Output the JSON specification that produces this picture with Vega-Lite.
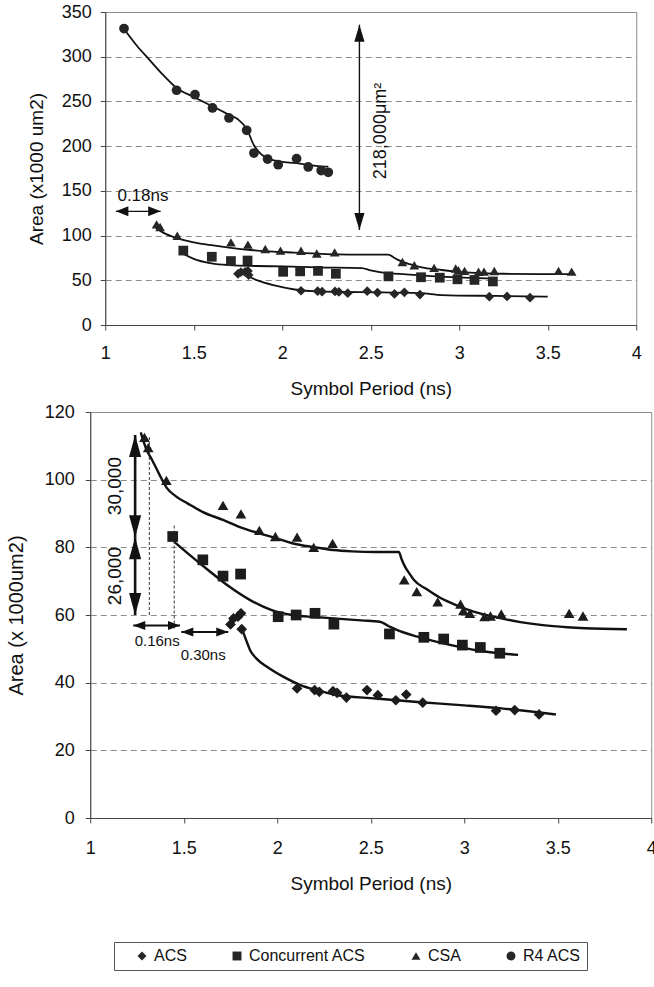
{
  "$schema": "https://vega.github.io/schema/vega-lite/v6.json",
  "background": "white",
  "padding": {"left": 5, "top": 2, "right": 0, "bottom": 0},
  "config": {
    "font": "Liberation Sans",
    "view": {"stroke": "#8c8c8c", "strokeWidth": 1},
    "axis": {
      "labelFont": "Liberation Sans", "titleFont": "Liberation Sans",
      "labelColor": "#111", "titleColor": "#111", "titleFontWeight": "normal",
      "domainColor": "#444", "tickColor": "#444", "tickSize": 5,
      "gridColor": "#8c8c8c", "gridDash": [6, 4], "labelFontSize": 18
    },
    "legend": {
      "orient": "none", "legendX": 24, "legendY": 930, "direction": "horizontal", "columns": 4,
      "strokeColor": "#555", "padding": 6, "labelFontSize": 16, "labelFont": "Liberation Sans",
      "labelColor": "#111", "symbolSize": 80, "symbolOffset": 14, "columnPadding": 28,
      "symbolFillColor": "#111", "symbolStrokeColor": "#111"
    }
  },
  "datasets": {
    "pts": [
      {"series": "ACS", "x": 1.75, "y": 57.2}, {"series": "ACS", "x": 1.766, "y": 59}, {"series": "ACS", "x": 1.79, "y": 59.5},
      {"series": "ACS", "x": 1.806, "y": 60.5}, {"series": "ACS", "x": 1.81, "y": 55.8}, {"series": "ACS", "x": 2.106, "y": 38.3},
      {"series": "ACS", "x": 2.2, "y": 37.8}, {"series": "ACS", "x": 2.225, "y": 37.3}, {"series": "ACS", "x": 2.298, "y": 37.5},
      {"series": "ACS", "x": 2.32, "y": 37}, {"series": "ACS", "x": 2.37, "y": 35.6}, {"series": "ACS", "x": 2.48, "y": 37.8},
      {"series": "ACS", "x": 2.538, "y": 36.3}, {"series": "ACS", "x": 2.634, "y": 34.8}, {"series": "ACS", "x": 2.69, "y": 36.5},
      {"series": "ACS", "x": 2.778, "y": 34.1}, {"series": "ACS", "x": 3.17, "y": 31.7}, {"series": "ACS", "x": 3.27, "y": 31.9},
      {"series": "ACS", "x": 3.4, "y": 30.6},
      {"series": "Concurrent ACS", "x": 1.441, "y": 83.2}, {"series": "Concurrent ACS", "x": 1.602, "y": 76.3},
      {"series": "Concurrent ACS", "x": 1.71, "y": 71.5}, {"series": "Concurrent ACS", "x": 1.804, "y": 72.1},
      {"series": "Concurrent ACS", "x": 2.005, "y": 59.5}, {"series": "Concurrent ACS", "x": 2.101, "y": 60},
      {"series": "Concurrent ACS", "x": 2.202, "y": 60.5}, {"series": "Concurrent ACS", "x": 2.303, "y": 57.3},
      {"series": "Concurrent ACS", "x": 2.6, "y": 54.4}, {"series": "Concurrent ACS", "x": 2.784, "y": 53.4},
      {"series": "Concurrent ACS", "x": 2.89, "y": 52.9}, {"series": "Concurrent ACS", "x": 2.99, "y": 51.1},
      {"series": "Concurrent ACS", "x": 3.086, "y": 50.4}, {"series": "Concurrent ACS", "x": 3.19, "y": 48.7},
      {"series": "CSA", "x": 1.29, "y": 112.5}, {"series": "CSA", "x": 1.31, "y": 109.5}, {"series": "CSA", "x": 1.407, "y": 99.8},
      {"series": "CSA", "x": 1.71, "y": 92.4}, {"series": "CSA", "x": 1.806, "y": 89.9}, {"series": "CSA", "x": 1.904, "y": 85},
      {"series": "CSA", "x": 1.99, "y": 83.2}, {"series": "CSA", "x": 2.106, "y": 83}, {"series": "CSA", "x": 2.195, "y": 80},
      {"series": "CSA", "x": 2.296, "y": 81.2}, {"series": "CSA", "x": 2.679, "y": 70.4}, {"series": "CSA", "x": 2.746, "y": 66.9},
      {"series": "CSA", "x": 2.858, "y": 63.9}, {"series": "CSA", "x": 2.98, "y": 63.2}, {"series": "CSA", "x": 2.995, "y": 61.3},
      {"series": "CSA", "x": 3.03, "y": 60.5}, {"series": "CSA", "x": 3.109, "y": 59.5}, {"series": "CSA", "x": 3.14, "y": 59.7},
      {"series": "CSA", "x": 3.198, "y": 60.3}, {"series": "CSA", "x": 3.561, "y": 60.5}, {"series": "CSA", "x": 3.635, "y": 59.7},
      {"series": "R4 ACS", "x": 1.106, "y": 331.5}, {"series": "R4 ACS", "x": 1.403, "y": 262.5}, {"series": "R4 ACS", "x": 1.507, "y": 257.5},
      {"series": "R4 ACS", "x": 1.606, "y": 242.7}, {"series": "R4 ACS", "x": 1.699, "y": 231.5}, {"series": "R4 ACS", "x": 1.799, "y": 217.7},
      {"series": "R4 ACS", "x": 1.84, "y": 192.3}, {"series": "R4 ACS", "x": 1.917, "y": 185.6}, {"series": "R4 ACS", "x": 1.977, "y": 179.2},
      {"series": "R4 ACS", "x": 2.081, "y": 186}, {"series": "R4 ACS", "x": 2.147, "y": 176.7}, {"series": "R4 ACS", "x": 2.22, "y": 172.7},
      {"series": "R4 ACS", "x": 2.26, "y": 170.8}
    ],
    "curves": [
      {"panel": "top", "series": "R4 ACS", "x": 1.106, "y": 331}, {"panel": "top", "series": "R4 ACS", "x": 1.18, "y": 312},
      {"panel": "top", "series": "R4 ACS", "x": 1.25, "y": 296.5}, {"panel": "top", "series": "R4 ACS", "x": 1.33, "y": 279},
      {"panel": "top", "series": "R4 ACS", "x": 1.403, "y": 265}, {"panel": "top", "series": "R4 ACS", "x": 1.5, "y": 255},
      {"panel": "top", "series": "R4 ACS", "x": 1.606, "y": 244.5}, {"panel": "top", "series": "R4 ACS", "x": 1.7, "y": 235},
      {"panel": "top", "series": "R4 ACS", "x": 1.75, "y": 230}, {"panel": "top", "series": "R4 ACS", "x": 1.8, "y": 219},
      {"panel": "top", "series": "R4 ACS", "x": 1.84, "y": 201}, {"panel": "top", "series": "R4 ACS", "x": 1.88, "y": 191},
      {"panel": "top", "series": "R4 ACS", "x": 1.93, "y": 185.5}, {"panel": "top", "series": "R4 ACS", "x": 2.0, "y": 182.5},
      {"panel": "top", "series": "R4 ACS", "x": 2.1, "y": 180.5}, {"panel": "top", "series": "R4 ACS", "x": 2.19, "y": 178},
      {"panel": "top", "series": "R4 ACS", "x": 2.26, "y": 177},
      {"panel": "top", "series": "CSA", "x": 1.276, "y": 110.5}, {"panel": "top", "series": "CSA", "x": 1.33, "y": 103},
      {"panel": "top", "series": "CSA", "x": 1.4, "y": 97.4}, {"panel": "top", "series": "CSA", "x": 1.5, "y": 92.5},
      {"panel": "top", "series": "CSA", "x": 1.6, "y": 89.2}, {"panel": "top", "series": "CSA", "x": 1.72, "y": 86},
      {"panel": "top", "series": "CSA", "x": 1.837, "y": 83.6}, {"panel": "top", "series": "CSA", "x": 1.95, "y": 82},
      {"panel": "top", "series": "CSA", "x": 2.07, "y": 81}, {"panel": "top", "series": "CSA", "x": 2.2, "y": 79.8},
      {"panel": "top", "series": "CSA", "x": 2.31, "y": 79}, {"panel": "top", "series": "CSA", "x": 2.45, "y": 78.7},
      {"panel": "top", "series": "CSA", "x": 2.6, "y": 78.7}, {"panel": "top", "series": "CSA", "x": 2.63, "y": 75.5},
      {"panel": "top", "series": "CSA", "x": 2.66, "y": 72.3}, {"panel": "top", "series": "CSA", "x": 2.72, "y": 68},
      {"panel": "top", "series": "CSA", "x": 2.78, "y": 64.8}, {"panel": "top", "series": "CSA", "x": 2.9, "y": 61.5},
      {"panel": "top", "series": "CSA", "x": 3.015, "y": 59.2}, {"panel": "top", "series": "CSA", "x": 3.13, "y": 58},
      {"panel": "top", "series": "CSA", "x": 3.25, "y": 57.3}, {"panel": "top", "series": "CSA", "x": 3.45, "y": 57},
      {"panel": "top", "series": "CSA", "x": 3.645, "y": 57},
      {"panel": "top", "series": "Concurrent ACS", "x": 1.436, "y": 80}, {"panel": "top", "series": "Concurrent ACS", "x": 1.5, "y": 74},
      {"panel": "top", "series": "Concurrent ACS", "x": 1.6, "y": 69}, {"panel": "top", "series": "Concurrent ACS", "x": 1.7, "y": 67},
      {"panel": "top", "series": "Concurrent ACS", "x": 1.85, "y": 66}, {"panel": "top", "series": "Concurrent ACS", "x": 2.0, "y": 65.5},
      {"panel": "top", "series": "Concurrent ACS", "x": 2.2, "y": 64.5}, {"panel": "top", "series": "Concurrent ACS", "x": 2.45, "y": 63.7},
      {"panel": "top", "series": "Concurrent ACS", "x": 2.5, "y": 61}, {"panel": "top", "series": "Concurrent ACS", "x": 2.55, "y": 59.2},
      {"panel": "top", "series": "Concurrent ACS", "x": 2.7, "y": 56.5}, {"panel": "top", "series": "Concurrent ACS", "x": 2.9, "y": 54},
      {"panel": "top", "series": "Concurrent ACS", "x": 3.2, "y": 51.7},
      {"panel": "top", "series": "ACS", "x": 1.75, "y": 59}, {"panel": "top", "series": "ACS", "x": 1.8, "y": 55},
      {"panel": "top", "series": "ACS", "x": 1.86, "y": 49.8}, {"panel": "top", "series": "ACS", "x": 1.95, "y": 44.5},
      {"panel": "top", "series": "ACS", "x": 2.07, "y": 39.7}, {"panel": "top", "series": "ACS", "x": 2.2, "y": 37.5},
      {"panel": "top", "series": "ACS", "x": 2.45, "y": 36.7}, {"panel": "top", "series": "ACS", "x": 2.78, "y": 35.6},
      {"panel": "top", "series": "ACS", "x": 2.9, "y": 33.5}, {"panel": "top", "series": "ACS", "x": 3.2, "y": 32.5},
      {"panel": "top", "series": "ACS", "x": 3.5, "y": 31.8},
      {"panel": "bottom", "series": "CSA", "x": 1.27, "y": 114}, {"panel": "bottom", "series": "CSA", "x": 1.3, "y": 109},
      {"panel": "bottom", "series": "CSA", "x": 1.33, "y": 105.9}, {"panel": "bottom", "series": "CSA", "x": 1.37, "y": 101.5},
      {"panel": "bottom", "series": "CSA", "x": 1.41, "y": 97.5}, {"panel": "bottom", "series": "CSA", "x": 1.46, "y": 95},
      {"panel": "bottom", "series": "CSA", "x": 1.52, "y": 93}, {"panel": "bottom", "series": "CSA", "x": 1.6, "y": 90.5},
      {"panel": "bottom", "series": "CSA", "x": 1.71, "y": 88.1}, {"panel": "bottom", "series": "CSA", "x": 1.8, "y": 86},
      {"panel": "bottom", "series": "CSA", "x": 1.9, "y": 84.2}, {"panel": "bottom", "series": "CSA", "x": 2.0, "y": 82.6},
      {"panel": "bottom", "series": "CSA", "x": 2.08, "y": 81.2}, {"panel": "bottom", "series": "CSA", "x": 2.2, "y": 80},
      {"panel": "bottom", "series": "CSA", "x": 2.3, "y": 79.2}, {"panel": "bottom", "series": "CSA", "x": 2.4, "y": 78.8},
      {"panel": "bottom", "series": "CSA", "x": 2.53, "y": 78.6}, {"panel": "bottom", "series": "CSA", "x": 2.65, "y": 78.6},
      {"panel": "bottom", "series": "CSA", "x": 2.665, "y": 76.5}, {"panel": "bottom", "series": "CSA", "x": 2.683, "y": 74.3},
      {"panel": "bottom", "series": "CSA", "x": 2.71, "y": 72}, {"panel": "bottom", "series": "CSA", "x": 2.73, "y": 70.4},
      {"panel": "bottom", "series": "CSA", "x": 2.8, "y": 67.6}, {"panel": "bottom", "series": "CSA", "x": 2.862, "y": 65.4},
      {"panel": "bottom", "series": "CSA", "x": 2.92, "y": 63.8}, {"panel": "bottom", "series": "CSA", "x": 2.975, "y": 62.5},
      {"panel": "bottom", "series": "CSA", "x": 3.05, "y": 61}, {"panel": "bottom", "series": "CSA", "x": 3.198, "y": 59},
      {"panel": "bottom", "series": "CSA", "x": 3.3, "y": 57.9}, {"panel": "bottom", "series": "CSA", "x": 3.42, "y": 57},
      {"panel": "bottom", "series": "CSA", "x": 3.55, "y": 56.4}, {"panel": "bottom", "series": "CSA", "x": 3.646, "y": 56.1},
      {"panel": "bottom", "series": "CSA", "x": 3.87, "y": 55.8},
      {"panel": "bottom", "series": "Concurrent ACS", "x": 1.448, "y": 81.7}, {"panel": "bottom", "series": "Concurrent ACS", "x": 1.52, "y": 78.3},
      {"panel": "bottom", "series": "Concurrent ACS", "x": 1.63, "y": 73.3}, {"panel": "bottom", "series": "Concurrent ACS", "x": 1.743, "y": 68.4},
      {"panel": "bottom", "series": "Concurrent ACS", "x": 1.855, "y": 64.4}, {"panel": "bottom", "series": "Concurrent ACS", "x": 1.967, "y": 61.5},
      {"panel": "bottom", "series": "Concurrent ACS", "x": 2.079, "y": 60}, {"panel": "bottom", "series": "Concurrent ACS", "x": 2.2, "y": 59.4},
      {"panel": "bottom", "series": "Concurrent ACS", "x": 2.303, "y": 59}, {"panel": "bottom", "series": "Concurrent ACS", "x": 2.45, "y": 58.4},
      {"panel": "bottom", "series": "Concurrent ACS", "x": 2.549, "y": 58}, {"panel": "bottom", "series": "Concurrent ACS", "x": 2.6, "y": 56.6},
      {"panel": "bottom", "series": "Concurrent ACS", "x": 2.639, "y": 55.6}, {"panel": "bottom", "series": "Concurrent ACS", "x": 2.75, "y": 53.6},
      {"panel": "bottom", "series": "Concurrent ACS", "x": 2.86, "y": 52}, {"panel": "bottom", "series": "Concurrent ACS", "x": 2.974, "y": 50.6},
      {"panel": "bottom", "series": "Concurrent ACS", "x": 3.1, "y": 49.3}, {"panel": "bottom", "series": "Concurrent ACS", "x": 3.288, "y": 48.2},
      {"panel": "bottom", "series": "ACS", "x": 1.81, "y": 56}, {"panel": "bottom", "series": "ACS", "x": 1.82, "y": 54.6},
      {"panel": "bottom", "series": "ACS", "x": 1.837, "y": 52.1}, {"panel": "bottom", "series": "ACS", "x": 1.855, "y": 49.6},
      {"panel": "bottom", "series": "ACS", "x": 1.889, "y": 47.1}, {"panel": "bottom", "series": "ACS", "x": 1.945, "y": 44.7},
      {"panel": "bottom", "series": "ACS", "x": 2.034, "y": 41.7}, {"panel": "bottom", "series": "ACS", "x": 2.124, "y": 39.3},
      {"panel": "bottom", "series": "ACS", "x": 2.213, "y": 37.8}, {"panel": "bottom", "series": "ACS", "x": 2.303, "y": 36.5},
      {"panel": "bottom", "series": "ACS", "x": 2.527, "y": 35.3}, {"panel": "bottom", "series": "ACS", "x": 2.75, "y": 34.3},
      {"panel": "bottom", "series": "ACS", "x": 3.0, "y": 33.3}, {"panel": "bottom", "series": "ACS", "x": 3.198, "y": 32.4},
      {"panel": "bottom", "series": "ACS", "x": 3.49, "y": 30.6}
    ],
    "gaps": [
      {"panel": "top", "measure": "area", "x": 2.436, "x2": 2.436, "y": 106.2, "y2": 335.8},
      {"panel": "top", "measure": "time", "x": 1.06, "x2": 1.313, "y": 127.1, "y2": 127.1},
      {"panel": "bottom", "measure": "area", "x": 1.24, "x2": 1.24, "y": 83.0, "y2": 113.2},
      {"panel": "bottom", "measure": "area", "x": 1.24, "x2": 1.24, "y": 60.0, "y2": 83.0},
      {"panel": "bottom", "measure": "time", "x": 1.23, "x2": 1.48, "y": 56.9, "y2": 56.9},
      {"panel": "bottom", "measure": "time", "x": 1.487, "x2": 1.738, "y": 55.0, "y2": 55.0}
    ],
    "guides": [
      {"x": 1.316, "y": 60, "y2": 112.6},
      {"x": 1.449, "y": 56, "y2": 86.6}
    ],
    "notes": [
      {"panel": "top", "measure": "time", "x": 1.213, "y": 144.8, "label": "0.18ns"},
      {"panel": "top", "measure": "area", "x": 2.56, "y": 217, "label": "218,000μm²"},
      {"panel": "bottom", "measure": "area", "x": 1.133, "y": 98.1, "label": "30,000"},
      {"panel": "bottom", "measure": "area", "x": 1.133, "y": 71.5, "label": "26,000"},
      {"panel": "bottom", "measure": "time", "x": 1.358, "y": 52.3, "label": "0.16ns"},
      {"panel": "bottom", "measure": "time", "x": 1.604, "y": 48.2, "label": "0.30ns"}
    ]
  },
  "spacing": 3,
  "center": true,
  "vconcat": [
    {
      "width": 531,
      "height": 313,
      "encoding": {
        "x": {"field": "x", "type": "quantitative", "scale": {"domain": [1, 4], "nice": false, "zero": false},
          "axis": {"values": [1, 1.5, 2, 2.5, 3, 3.5, 4], "format": "~g", "title": "Symbol Period (ns)", "grid": false,
            "labelFlush": false, "labelPadding": 14, "titleFontSize": 19, "titlePadding": 17}},
        "y": {"field": "y", "type": "quantitative", "scale": {"domain": [0, 350], "nice": false},
          "axis": {"values": [0, 50, 100, 150, 200, 250, 300, 350], "title": "Area (x1000 um2)", "grid": true,
            "labelPadding": 9, "titleFontSize": 19, "titlePadding": 15}}
      },
      "layer": [
        {"data": {"name": "curves"}, "transform": [{"filter": "datum.panel == 'top'"}],
          "mark": {"type": "line", "color": "#111", "strokeWidth": 1.8, "interpolate": "monotone"},
          "encoding": {"detail": {"field": "series"}}},
        {"data": {"name": "gaps"}, "transform": [{"filter": "datum.panel == 'top'"}],
          "mark": {"type": "rule", "color": "#111", "strokeWidth": 1.4},
          "encoding": {"x2": {"field": "x2"}, "y2": {"field": "y2"}}},
        {"data": {"name": "gaps"}, "transform": [{"filter": "datum.panel == 'top' && datum.measure == 'area'"}],
          "mark": {"type": "point", "shape": "M0,0L-0.6,2L0.6,2Z", "filled": true, "color": "#111", "size": 289, "opacity": 1, "angle": 0},
          "encoding": {"y": {"field": "y2", "type": "quantitative"}}},
        {"data": {"name": "gaps"}, "transform": [{"filter": "datum.panel == 'top' && datum.measure == 'area'"}],
          "mark": {"type": "point", "shape": "M0,0L-0.6,2L0.6,2Z", "filled": true, "color": "#111", "size": 289, "opacity": 1, "angle": 180}},
        {"data": {"name": "gaps"}, "transform": [{"filter": "datum.panel == 'top' && datum.measure == 'time'"}],
          "mark": {"type": "point", "shape": "M0,0L-0.8,2L0.8,2Z", "filled": true, "color": "#111", "size": 156, "opacity": 1, "angle": 270}},
        {"data": {"name": "gaps"}, "transform": [{"filter": "datum.panel == 'top' && datum.measure == 'time'"}],
          "mark": {"type": "point", "shape": "M0,0L-0.8,2L0.8,2Z", "filled": true, "color": "#111", "size": 156, "opacity": 1, "angle": 90},
          "encoding": {"x": {"field": "x2", "type": "quantitative"}}},
        {"data": {"name": "pts"},
          "mark": {"type": "point", "filled": true, "color": "#262626", "size": 95, "opacity": 1},
          "encoding": {"shape": {"field": "series", "type": "nominal",
            "scale": {"domain": ["ACS", "Concurrent ACS", "CSA", "R4 ACS"], "range": ["diamond", "square", "triangle-up", "circle"]},
            "legend": {"title": null}}}},
        {"data": {"name": "notes"}, "transform": [{"filter": "datum.panel == 'top' && datum.measure == 'time'"}],
          "mark": {"type": "text", "fontSize": 17, "color": "#111", "align": "center", "baseline": "middle"},
          "encoding": {"text": {"field": "label"}}},
        {"data": {"name": "notes"}, "transform": [{"filter": "datum.panel == 'top' && datum.measure == 'area'"}],
          "mark": {"type": "text", "fontSize": 18, "color": "#111", "align": "center", "baseline": "middle", "angle": 270},
          "encoding": {"text": {"field": "label"}}}
      ]
    },
    {
      "width": 561,
      "height": 406,
      "encoding": {
        "x": {"field": "x", "type": "quantitative", "scale": {"domain": [1, 4], "nice": false, "zero": false},
          "axis": {"values": [1, 1.5, 2, 2.5, 3, 3.5, 4], "format": "~g", "title": "Symbol Period (ns)", "grid": false,
            "labelFlush": false, "labelPadding": 16, "titleFontSize": 19, "titlePadding": 17}},
        "y": {"field": "y", "type": "quantitative", "scale": {"domain": [0, 120], "nice": false},
          "axis": {"values": [0, 20, 40, 60, 80, 100, 120], "title": "Area (x 1000um2)", "grid": true,
            "labelPadding": 11, "titleFontSize": 20, "titlePadding": 18}}
      },
      "layer": [
        {"data": {"name": "curves"}, "transform": [{"filter": "datum.panel == 'bottom'"}],
          "mark": {"type": "line", "color": "#111", "strokeWidth": 2.4, "interpolate": "monotone"},
          "encoding": {"detail": {"field": "series"}}},
        {"data": {"name": "guides"},
          "mark": {"type": "rule", "color": "#333", "strokeWidth": 1, "strokeDash": [3, 2]},
          "encoding": {"y2": {"field": "y2"}}},
        {"data": {"name": "gaps"}, "transform": [{"filter": "datum.panel == 'bottom' && datum.measure == 'area'"}],
          "mark": {"type": "rule", "color": "#111", "strokeWidth": 2.6},
          "encoding": {"x2": {"field": "x2"}, "y2": {"field": "y2"}}},
        {"data": {"name": "gaps"}, "transform": [{"filter": "datum.panel == 'bottom' && datum.measure == 'time'"}],
          "mark": {"type": "rule", "color": "#111", "strokeWidth": 2},
          "encoding": {"x2": {"field": "x2"}, "y2": {"field": "y2"}}},
        {"data": {"name": "gaps"}, "transform": [{"filter": "datum.panel == 'bottom' && datum.measure == 'area'"}],
          "mark": {"type": "point", "shape": "M0,0L-0.55,2L0.55,2Z", "filled": true, "color": "#111", "size": 484, "opacity": 1, "angle": 0},
          "encoding": {"y": {"field": "y2", "type": "quantitative"}}},
        {"data": {"name": "gaps"}, "transform": [{"filter": "datum.panel == 'bottom' && datum.measure == 'area'"}],
          "mark": {"type": "point", "shape": "M0,0L-0.55,2L0.55,2Z", "filled": true, "color": "#111", "size": 484, "opacity": 1, "angle": 180}},
        {"data": {"name": "gaps"}, "transform": [{"filter": "datum.panel == 'bottom' && datum.measure == 'time'"}],
          "mark": {"type": "point", "shape": "M0,0L-0.75,2L0.75,2Z", "filled": true, "color": "#111", "size": 144, "opacity": 1, "angle": 270}},
        {"data": {"name": "gaps"}, "transform": [{"filter": "datum.panel == 'bottom' && datum.measure == 'time'"}],
          "mark": {"type": "point", "shape": "M0,0L-0.75,2L0.75,2Z", "filled": true, "color": "#111", "size": 144, "opacity": 1, "angle": 90},
          "encoding": {"x": {"field": "x2", "type": "quantitative"}}},
        {"data": {"name": "pts"}, "transform": [{"filter": "datum.series != 'R4 ACS'"}],
          "mark": {"type": "point", "filled": true, "color": "#1c1c1c", "size": 115, "opacity": 1},
          "encoding": {"shape": {"field": "series", "type": "nominal",
            "scale": {"domain": ["ACS", "Concurrent ACS", "CSA", "R4 ACS"], "range": ["diamond", "square", "triangle-up", "circle"]},
            "legend": {"title": null}}}},
        {"data": {"name": "notes"}, "transform": [{"filter": "datum.panel == 'bottom' && datum.measure == 'time'"}],
          "mark": {"type": "text", "fontSize": 15, "color": "#111", "align": "center", "baseline": "middle"},
          "encoding": {"text": {"field": "label"}}},
        {"data": {"name": "notes"}, "transform": [{"filter": "datum.panel == 'bottom' && datum.measure == 'area'"}],
          "mark": {"type": "text", "fontSize": 19, "color": "#111", "align": "center", "baseline": "middle", "angle": 270},
          "encoding": {"text": {"field": "label"}}}
      ]
    }
  ]
}
